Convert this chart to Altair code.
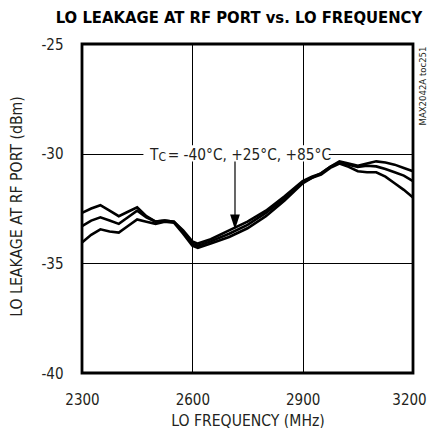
import altair as alt
import pandas as pd

# ---- data ----
freq = [2300, 2325, 2350, 2375, 2400, 2425, 2450, 2475, 2500, 2525, 2550, 2575,
        2600, 2615, 2650, 2700, 2750, 2800, 2850, 2900, 2925, 2950, 2975, 3000,
        3025, 3050, 3075, 3100, 3125, 3150, 3175, 3200]
t_m40 = [-32.7, -32.5, -32.35, -32.6, -32.85, -32.65, -32.45, -32.85, -33.1, -33.05, -33.1, -33.5,
         -34.0, -34.1, -33.9, -33.5, -33.1, -32.6, -31.95, -31.25, -31.05, -30.9, -30.6, -30.35,
         -30.45, -30.55, -30.45, -30.35, -30.4, -30.5, -30.65, -30.8]
t_p25 = [-33.3, -33.05, -32.9, -33.05, -33.2, -32.9, -32.6, -32.9, -33.1, -33.05, -33.1, -33.55,
         -34.1, -34.2, -34.0, -33.65, -33.25, -32.7, -32.05, -31.3, -31.1, -30.9, -30.6, -30.4,
         -30.5, -30.6, -30.55, -30.58, -30.7, -30.85, -31.0, -31.25]
t_p85 = [-34.05, -33.7, -33.45, -33.55, -33.6, -33.3, -33.0, -33.1, -33.2, -33.1, -33.15, -33.65,
         -34.2, -34.3, -34.1, -33.8, -33.4, -32.85, -32.15, -31.35, -31.1, -30.95, -30.65, -30.45,
         -30.6, -30.8, -30.85, -30.85, -31.05, -31.35, -31.65, -32.0]
series_names = ["-40°C", "+25°C", "+85°C"]

x_ticks = [2300, 2600, 2900, 3200]
y_ticks = [-40, -35, -30, -25]

title_text = "LO LEAKAGE AT RF PORT vs. LO FREQUENCY"
x_title = "LO FREQUENCY (MHz)"
y_title = "LO LEAKAGE AT RF PORT (dBm)"
source_text = "MAX2042A toc251"

rows = []
for name, vals in zip(series_names, [t_m40, t_p25, t_p85]):
    for f, v in zip(freq, vals):
        rows.append({"freq": f, "dBm": v, "series": name})
df = pd.DataFrame(rows)

FONT = "DejaVu Sans Condensed, Liberation Sans, sans-serif"
INK = "#231f20"

xs = alt.Scale(domain=[2300, 3200], nice=False, zero=False)
ys = alt.Scale(domain=[-40, -25], nice=False, zero=False)

x_axis = alt.Axis(values=x_ticks, title=x_title, grid=True, gridColor="black", gridWidth=1,
                  ticks=False, tickSize=0, domain=False, labelPadding=31, labelFlush=False,
                  labelBaseline="alphabetic", labelExpr="'' + datum.value",
                  labelOffset={"condition": {"test": "datum.value == 3200", "value": -4}, "value": 0},
                  labelFontSize=15, titleFontSize=15.6, titleFontWeight="normal",
                  titleY=52, titleBaseline="alphabetic", labelFont=FONT, titleFont=FONT,
                  labelColor=INK, titleColor=INK)
y_axis = alt.Axis(values=y_ticks, title=y_title, grid=True, gridColor="black", gridWidth=1,
                  ticks=False, tickSize=0, domain=False, labelPadding=19,
                  labelExpr="'' + datum.value",
                  labelFontSize=15, titleFontSize=15.7, titleFontWeight="normal",
                  titleX=-66, titleY=162, titleAngle=270, titleAlign="center",
                  titleBaseline="middle", labelFont=FONT, titleFont=FONT,
                  labelColor=INK, titleColor=INK)

lines = alt.Chart(df).mark_line(color="black", strokeWidth=2.6).encode(
    x=alt.X("freq:Q", scale=xs, axis=x_axis),
    y=alt.Y("dBm:Q", scale=ys, axis=y_axis),
    detail="series:N",
)

# annotation
box = alt.Chart(pd.DataFrame({"x": [2467], "x2": [2971], "y": [-29.62], "y2": [-30.36]})).mark_rect(
    color="white").encode(x=alt.X("x:Q", scale=xs), x2="x2", y=alt.Y("y:Q", scale=ys), y2="y2")

arrow_line = alt.Chart(pd.DataFrame({"x": [2716], "y": [-30.36], "y2": [-33.0]})).mark_rule(
    color="black", strokeWidth=1.2).encode(x=alt.X("x:Q", scale=xs), y=alt.Y("y:Q", scale=ys), y2="y2")
arrow_head = alt.Chart(pd.DataFrame({"x": [2716], "y": [-33.11]})).mark_point(
    shape="M-0.65,-1L0.65,-1L0,1Z", size=225, filled=True, color="black", opacity=1).encode(
    x=alt.X("x:Q", scale=xs), y=alt.Y("y:Q", scale=ys))

t_main = alt.Chart(pd.DataFrame({"x": [2485], "y": [-30.27], "t": ["T"]})).mark_text(
    align="left", baseline="alphabetic", font=FONT, fontSize=15.3, color=INK).encode(
    x=alt.X("x:Q", scale=xs), y=alt.Y("y:Q", scale=ys), text="t:N")
t_sub = alt.Chart(pd.DataFrame({"x": [2508], "y": [-30.33], "t": ["C"]})).mark_text(
    align="left", baseline="alphabetic", font=FONT, fontSize=12, color=INK).encode(
    x=alt.X("x:Q", scale=xs), y=alt.Y("y:Q", scale=ys), text="t:N")
t_rest = alt.Chart(pd.DataFrame({"x": [2533], "y": [-30.27], "t": ["= " + ", ".join(series_names)]})).mark_text(
    align="left", baseline="alphabetic", font=FONT, fontSize=15.3, color=INK).encode(
    x=alt.X("x:Q", scale=xs), y=alt.Y("y:Q", scale=ys), text="t:N")

title = alt.Chart(pd.DataFrame({"t": [title_text]})).mark_text(
    align="center", baseline="alphabetic", font=FONT, fontSize=16.5, fontWeight="bold", color="black").encode(
    x=alt.value(157), y=alt.value(-21), text="t:N")

source = alt.Chart(pd.DataFrame({"t": [source_text]})).mark_text(
    align="center", baseline="middle", font=FONT, fontSize=9.5, angle=270, color=INK).encode(
    x=alt.value(341), y=alt.value(42), text="t:N")

chart = alt.layer(box, lines, arrow_line, arrow_head, t_main, t_sub, t_rest, title, source).properties(
    width=331, height=329,
    autosize=alt.AutoSizeParams(type="none"),
    padding={"left": 74, "top": 36, "right": 14, "bottom": 55},
    background="white",
).configure_view(stroke="black", strokeWidth=2.8)

chart.save("out.html", embed_options={"renderer": "svg", "actions": False})
